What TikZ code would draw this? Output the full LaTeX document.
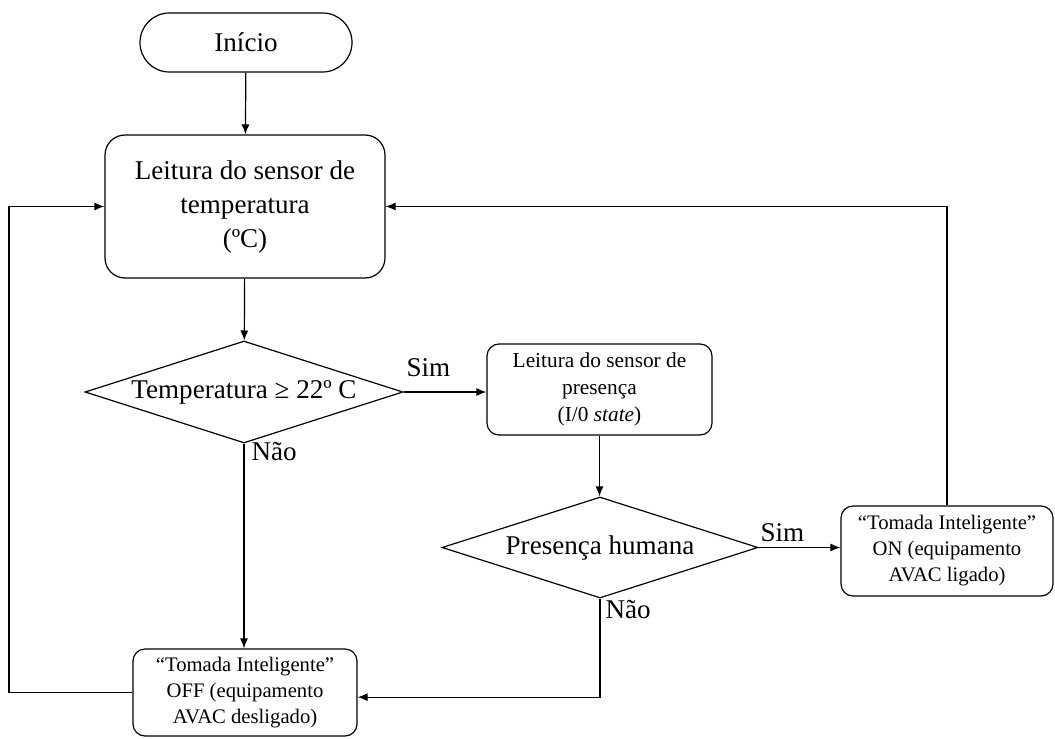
\documentclass[tikz,border=0pt]{standalone}
\usepackage{fontspec}
\setmainfont{Liberation Serif}
\usetikzlibrary{shapes.geometric,arrows.meta}
\begin{document}
\begin{tikzpicture}[x=0.75pt,y=-0.75pt,
  every path/.style={line width=0.9pt},
  arr/.style={-{Latex[length=7.5pt,width=6pt]}},
  bigtxt/.style={font=\fontsize{20.3}{25.5}\selectfont},
  boxa/.style={draw, rounded corners=15pt, align=center, inner sep=0pt, bigtxt},
  boxb/.style={draw, rounded corners=9pt, align=center, inner sep=0pt},
  dec/.style={draw, diamond, aspect=3.1, inner sep=0pt, bigtxt},
  lbl/.style={inner sep=0pt, bigtxt}]
\useasboundingbox (0,0) rectangle (1055,738);
\node[draw, rounded corners=22pt, minimum width=159pt, minimum height=44.25pt, inner sep=0pt, bigtxt] (start) at (246,42.5) {Início};
\node[boxa, minimum width=210pt, minimum height=107.25pt] (box1) at (245,206.5) {Leitura do sensor de\\temperatura\\(ºC)};
\node[dec, minimum width=238.5pt, minimum height=76.5pt] (d1) at (244,392) {Temperatura ≥ 22º C};
\node[boxb, minimum width=168.75pt, minimum height=68.25pt, font=\fontsize{16}{20.5}\selectfont] (box2) at (599.5,389.5) {Leitura do sensor de\\presença\\(I/0 \textit{state})};
\node[dec, minimum width=237pt, minimum height=75.75pt] (d2) at (600,547.5) {Presença humana};
\node[boxb, minimum width=159pt, minimum height=67.5pt, font=\fontsize{15.5}{19.5}\selectfont] (box3) at (947,551) {“Tomada Inteligente”\\ON (equipamento\\AVAC ligado)};
\node[boxb, minimum width=168pt, minimum height=65.25pt, font=\fontsize{15.5}{19.5}\selectfont] (box4) at (245,692.5) {“Tomada Inteligente”\\OFF (equipamento\\AVAC desligado)};
\coordinate (lx) at (9,206.5);
\draw[arr] (start) -- (box1);
\draw[arr] (box1) -- (d1);
\draw[arr] (d1.east) -- (d1.east -| box2.west);
\draw[arr] (box2.south) -- (box2.south |- d2.north);
\draw[arr] (d2.east) -- (d2.east -| box3.west);
\draw[arr] (box3.north) |- (box1.east);
\draw[arr] (d1.south) -- (d1.south |- box4.north);
\draw[arr] (d2.south) |- ([yshift=-3.5pt]box4.east);
\draw[arr] (box4.west) -| (lx) |- (box1.west);
\node[lbl, anchor=base west] (s1) at (406,376) {Sim};
\node[lbl, anchor=base west] (n1) at (251,460) {Não};
\node[lbl, anchor=base west] (s2) at (760,541) {Sim};
\node[lbl, anchor=base west] (n2) at (605,618) {Não};
\end{tikzpicture}
\end{document}
